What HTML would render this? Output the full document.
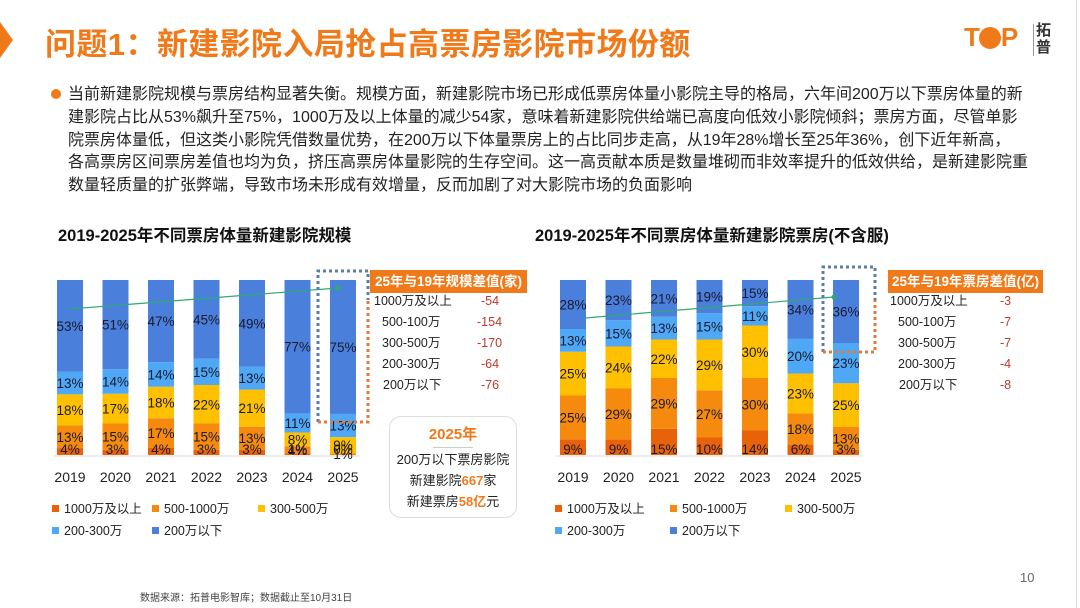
<!DOCTYPE html>
<html><head><meta charset="utf-8">
<style>
*{margin:0;padding:0;box-sizing:border-box}
body{width:1080px;height:608px;background:#fff;position:relative;overflow:hidden;font-family:"Liberation Sans","Noto Sans CJK SC",sans-serif;color:#222}
.abs{position:absolute}
.title{left:45px;top:19px;font-size:31px;font-weight:bold;color:#F07A1A;letter-spacing:0.4px}
.para{left:68px;top:84px;font-size:16px;line-height:22.8px;color:#222;white-space:nowrap}
.ctitle{font-size:16.5px;font-weight:bold;color:#111}
.th{background:#F07A1A;color:#fff;font-weight:bold;font-size:13.5px;text-align:center;line-height:23px;height:23px}
.row{font-size:12.5px;height:21px;line-height:21px}
.row span.v{position:absolute;color:#C0392B}
</style></head><body>
<div class="abs" style="left:0;top:22px;width:0;height:0;border-top:18px solid transparent;border-bottom:18px solid transparent;border-left:13px solid #F07A1A"></div>
<div class="abs title">问题1：新建影院入局抢占高票房影院市场份额</div>
<div class="abs" style="left:964px;top:22px;font-size:26px;font-weight:bold;color:#F07A1A;letter-spacing:-1px">T<span style="display:inline-block;width:22px;height:22px;border-radius:50%;background:#F07A1A;vertical-align:-3px"></span>P</div>
<div class="abs" style="left:1033px;top:24px;width:1px;height:32px;background:#999"></div>
<div class="abs" style="left:1036px;top:22px;font-size:15px;line-height:17px;font-weight:bold;color:#333">拓<br>普</div>
<div class="abs" style="left:1076px;top:0;width:1px;height:608px;background:#ddd"></div>

<div class="abs" style="left:51px;top:89px;width:10px;height:10px;border-radius:50%;background:#F07A1A"></div>
<div class="abs para">当前新建影院规模与票房结构显著失衡。规模方面，新建影院市场已形成低票房体量小影院主导的格局，六年间200万以下票房体量的新<br>建影院占比从53%飙升至75%，1000万及以上体量的减少54家，意味着新建影院供给端已高度向低效小影院倾斜；票房方面，尽管单影<br>院票房体量低，但这类小影院凭借数量优势，在200万以下体量票房上的占比同步走高，从19年28%增长至25年36%，创下近年新高，<br>各高票房区间票房差值也均为负，挤压高票房体量影院的生存空间。这一高贡献本质是数量堆砌而非效率提升的低效供给，是新建影院重<br>数量轻质量的扩张弊端，导致市场未形成有效增量，反而加剧了对大影院市场的负面影响</div>

<div class="abs ctitle" style="left:58px;top:222px">2019-2025年不同票房体量新建影院规模</div>
<div class="abs ctitle" style="left:535px;top:222px">2019-2025年不同票房体量新建影院票房(不含服)</div>

<svg class="abs" style="left:0;top:0" width="1080" height="608" id="charts"></svg>

<div class="abs th" style="left:370px;top:270px;width:157px">25年与19年规模差值(家)</div>
<div class="abs" style="left:374px;top:291px;width:150px">
<div class="row" style="position:relative">1000万及以上<span class="v" style="left:107px">-54</span></div>
<div class="row" style="position:relative;padding-left:8px">500-100万<span class="v" style="left:103px">-154</span></div>
<div class="row" style="position:relative;padding-left:8px">300-500万<span class="v" style="left:103px">-170</span></div>
<div class="row" style="position:relative;padding-left:8px">200-300万<span class="v" style="left:107px">-64</span></div>
<div class="row" style="position:relative;padding-left:9px">200万以下<span class="v" style="left:107px">-76</span></div>
</div>
<div class="abs" style="left:389px;top:416px;width:128px;height:102px;border:1px solid #ddd;border-radius:12px;text-align:center;font-size:13px;line-height:21px">
<div style="color:#F07A1A;font-weight:bold;font-size:15px;margin-top:7px;line-height:22px">2025年</div>
<div style="width:40px;height:1px;background:#ccc;margin:1px auto 1px"></div>
<div>200万以下票房影院</div>
<div>新建影院<b style="color:#F07A1A">667</b>家</div>
<div>新建票房<b style="color:#F07A1A">58亿</b>元</div>
</div>

<div class="abs th" style="left:888px;top:270px;width:155px">25年与19年票房差值(亿)</div>
<div class="abs" style="left:890px;top:291px;width:150px">
<div class="row" style="position:relative">1000万及以上<span class="v" style="left:110px">-3</span></div>
<div class="row" style="position:relative;padding-left:8px">500-100万<span class="v" style="left:110px">-7</span></div>
<div class="row" style="position:relative;padding-left:8px">300-500万<span class="v" style="left:110px">-7</span></div>
<div class="row" style="position:relative;padding-left:8px">200-300万<span class="v" style="left:110px">-4</span></div>
<div class="row" style="position:relative;padding-left:9px">200万以下<span class="v" style="left:110px">-8</span></div>
</div>

<div class="abs" style="left:1020px;top:570px;font-size:13px;color:#666">10</div>
<div class="abs" style="left:140px;top:589px;font-size:10px;color:#444">数据来源：拓普电影智库；数据截止至10月31日</div>

<script>
const years=["2019","2020","2021","2022","2023","2024","2025"];
const seriesNames=["1000万及以上","500-1000万","300-500万","200-300万","200万以下"];
const colors=["#E8620A","#F58A0E","#FFC000","#4FA8F5","#4A7FDC"];
const leftS1=[4,3,4,3,3,1,0];
const leftS2=[13,15,17,15,13,4,1];
const leftS3=[18,17,18,22,21,8,9];
const leftS4=[13,14,14,15,13,11,13];
const leftS5=[53,51,47,45,49,77,75];
const rightS1=[9,9,15,10,14,6,3];
const rightS2=[25,29,29,27,30,18,13];
const rightS3=[25,24,22,29,30,23,25];
const rightS4=[13,15,13,15,11,20,23];
const rightS5=[28,23,21,19,15,34,36];

const svg=document.getElementById('charts');
const NS='http://www.w3.org/2000/svg';
function mk(tag,attrs){const e=document.createElementNS(NS,tag);for(const k in attrs)e.setAttribute(k,attrs[k]);svg.appendChild(e);return e;}

function drawChart(prefix,x0,step,series){
  const top=280,bottom=455,H=bottom-top,bw=26;
  const xc=i=>x0+i*step;
  const ax=mk('line',{x1:x0-step/2+6,x2:xc(6)+step/2-6,y1:bottom+1,y2:bottom+1,stroke:'#d9d9d9','stroke-width':1});
  
  
  const labels=[];
  for(let i=0;i<years.length;i++){
    const tot=series.reduce((s,a)=>s+a[i],0)||1;
    let y=bottom;
    for(let k=0;k<series.length;k++){
      const h=series[k][i]/tot*H;
      const r=mk('rect',{x:xc(i)-bw/2,y:y-h,width:bw,height:h,fill:colors[k]});
      
      
      let ly=y-h/2+5;
      if(k===0) ly=bottom-1;
      labels.push([xc(i),ly,series[k][i]+'%',years[i],k]);
      y-=h;
    }
    const yl=mk('text',{x:xc(i),y:482,'text-anchor':'middle','font-size':14,fill:'#222'});
    yl.textContent=years[i];
    
    
  }
  labels.forEach(l=>{
    const t=mk('text',{x:l[0],y:l[1],'text-anchor':'middle','font-size':13.5,fill:'#1a1a2e'});
    t.textContent=l[2];
    
    
  });
}
drawChart('left',70,45.5,[leftS1,leftS2,leftS3,leftS4,leftS5]);
drawChart('right',573,45.5,[rightS1,rightS2,rightS3,rightS4,rightS5]);

function legend(prefix,pos){
  pos.forEach((p,k)=>{
    const r=mk('rect',{x:p[0],y:p[1]-4,width:7,height:7,fill:colors[k]});
    
    
    const t=mk('text',{x:p[0]+12,y:p[1]+4,'font-size':12.5,fill:'#222'});
    t.textContent=seriesNames[k];
    
    
  });
}
legend('left',[[52,509],[152,509],[258,509],[52,531],[152,531]]);
legend('right',[[555,509],[670,509],[785,509],[555,531],[670,531]]);

[['left',70,309,338,288],['right',585,318,834,297]].forEach(a=>{
  const l=mk('line',{x1:a[1],y1:a[2],x2:a[3],y2:a[4],stroke:'#2EAA6E','stroke-width':1.2});
  
  
  const c=mk('circle',{cx:a[3],cy:a[4],r:2.5,fill:'#2EAA6E'});
  
  
});
function box(prefix,x1,y1,x2,y2,oTop){
  const d={fill:'none','stroke-width':3,'stroke-dasharray':'3 3'};
  const b=mk('path',Object.assign({d:`M${x1},${y2} L${x1},${y1} L${x2},${y1} L${x2},${oTop}`,stroke:'#5B7BA8'},d));
  
  
  const o=mk('path',Object.assign({d:`M${x1},${y2} L${x2},${y2} L${x2},${oTop}`,stroke:'#E07B39'},d));
  
  
}
box('left',318,271,368,422,300);
box('right',823,267,875,352,300);
</script>
</body></html>
